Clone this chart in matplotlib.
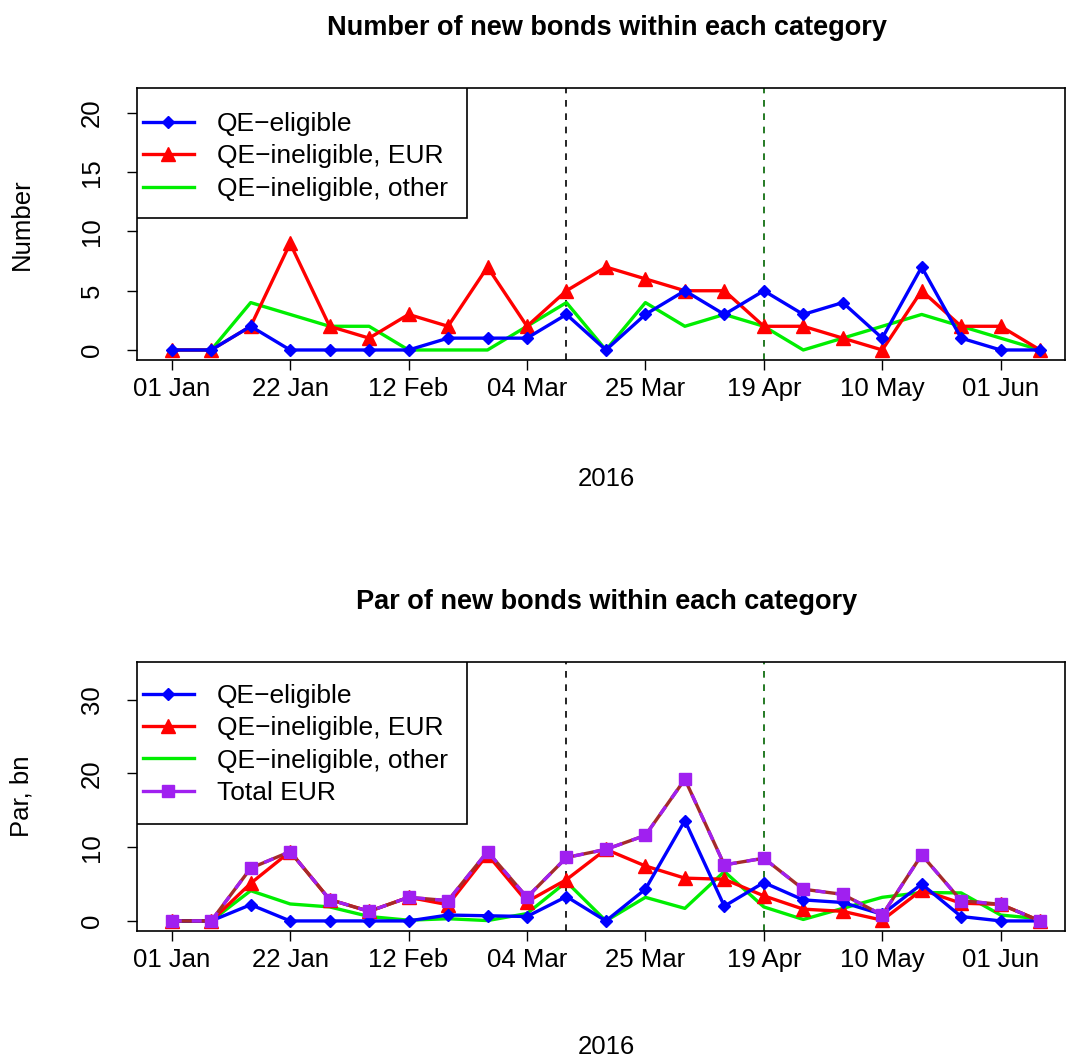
import numpy as np
import matplotlib
matplotlib.use("Agg")
import matplotlib.pyplot as plt
from matplotlib.patches import Rectangle

plt.rcParams['font.family'] = ['Liberation Sans', 'DejaVu Sans']

# weekly issuance, 2016
weeks = np.arange(23)
tick_pos = [0, 3, 6, 9, 12, 15, 18, 21]
tick_labels = ["01 Jan", "22 Jan", "12 Feb", "04 Mar", "25 Mar", "19 Apr", "10 May", "01 Jun"]

# number of new bonds
n_eligible = [0, 0, 2, 0, 0, 0, 0, 1, 1, 1, 3, 0, 3, 5, 3, 5, 3, 4, 1, 7, 1, 0, 0]
n_inelig_eur = [0, 0, 2, 9, 2, 1, 3, 2, 7, 2, 5, 7, 6, 5, 5, 2, 2, 1, 0, 5, 2, 2, 0]
n_inelig_other = [0, 0, 4, 3, 2, 2, 0, 0, 0, 2, 4, 0, 4, 2, 3, 2, 0, 1, 2, 3, 2, 1, 0]

# par amounts, bn
p_eligible = [0, 0, 2.2, 0, 0, 0, 0, 0.8, 0.7, 0.6, 3.3, 0, 4.3, 13.6, 2.0, 5.2, 2.85, 2.5, 0.9, 5.0, 0.6, 0, 0]
p_inelig_eur = [0, 0, 5.1, 9.4, 2.9, 1.3, 3.2, 2.2, 9.0, 2.6, 5.6, 9.7, 7.45, 5.8, 5.65, 3.4, 1.6, 1.3, 0.1, 4.2, 2.4, 2.25, 0]
p_inelig_other = [0, 0, 4.1, 2.3, 1.9, 0.6, 0.1, 0.3, 0.05, 1.0, 5.3, 0, 3.2, 1.7, 6.7, 1.9, 0.2, 1.7, 3.2, 3.85, 3.8, 0.8, 0.3]
p_total_eur = [0, 0, 7.15, 9.4, 2.9, 1.3, 3.2, 2.75, 9.4, 3.2, 8.6, 9.7, 11.6, 19.2, 7.6, 8.5, 4.3, 3.6, 0.8, 8.95, 2.75, 2.25, 0]

event_weeks = [10, 15]
event_colors = ["black", "darkgreen"]

FS = 18.5

fig = plt.figure(figsize=(10.67, 10.59), dpi=100)
ax1 = fig.add_axes([0.1284, 0.660, 0.8697, 0.2568])
ax2 = fig.add_axes([0.1284, 0.1209, 0.8697, 0.2540])


def style_axes(ax, ylim, yticks, title, ylabel, xlab_y):
    ax.set_xlim(-0.88, 22.63)
    ax.set_ylim(*ylim)
    ax.set_xticks(tick_pos)
    ax.set_xticklabels(tick_labels)
    ax.set_yticks(yticks)
    ax.set_yticklabels([str(v) for v in yticks], rotation=90, va='center')
    ax.tick_params(axis='x', labelsize=FS, length=7, width=1, direction='out', pad=5)
    ax.tick_params(axis='y', labelsize=FS, length=7, width=1, direction='out', pad=17)
    for s in ax.spines.values():
        s.set_linewidth(1.2)
    t = ax.set_title(title, fontsize=19.5, fontweight='bold', pad=38)
    t.set_x(0.506)
    ax.set_xlabel("2016", fontsize=FS)
    ax.xaxis.set_label_coords(0.506, xlab_y)
    ax.set_ylabel(ylabel, fontsize=FS, labelpad=33)
    for w, c in zip(event_weeks, event_colors):
        ax.axvline(w, color=c, ls=(0, (4, 4)), lw=1.2, zorder=1)


def add_legend(ax, handles, labels, box_bottom, top_anchor):
    # boxed legend in the top-left corner, frame drawn separately for R-like padding
    ax.add_patch(Rectangle((0, box_bottom), 0.3556, 1 - box_bottom, transform=ax.transAxes,
                           facecolor='white', edgecolor='black', lw=1.2, zorder=10))
    leg = ax.legend(handles, labels, loc='upper left', bbox_to_anchor=(0.0061, top_anchor),
                    fontsize=19, frameon=False, borderaxespad=0, borderpad=0,
                    handlelength=1.94, handletextpad=0.88, labelspacing=0.32)
    leg.set_zorder(11)


# top panel
ax1.plot(weeks, n_inelig_other, color='#00ee00', lw=2.4, label='QE\u2212ineligible, other', zorder=2)
ax1.plot(weeks, n_inelig_eur, color='red', lw=2.4, marker='^', ms=10, label='QE\u2212ineligible, EUR', zorder=3)
ax1.plot(weeks, n_eligible, color='blue', lw=2.4, marker='D', ms=6, label='QE\u2212eligible', zorder=4)
style_axes(ax1, (-0.85, 22.1), [0, 5, 10, 15, 20], "Number of new bonds within each category",
           "Number", -0.393)
h, l = ax1.get_legend_handles_labels()
add_legend(ax1, [h[2], h[1], h[0]], [l[2], l[1], l[0]], 0.522, 0.912)

# bottom panel
ax2.plot(weeks, p_inelig_other, color='#00ee00', lw=2.4, label='QE\u2212ineligible, other', zorder=2)
ax2.plot(weeks, p_inelig_eur, color='red', lw=2.4, marker='^', ms=10, label='QE\u2212ineligible, EUR', zorder=3)
ax2.plot(weeks, p_eligible, color='blue', lw=2.4, marker='D', ms=6, label='QE\u2212eligible', zorder=4)
ax2.plot(weeks, p_total_eur, color='brown', lw=2.4, zorder=5)
ax2.plot(weeks, p_total_eur, color='#a020f0', lw=2.4, ls=(0, (3, 3)), marker='s', ms=9,
         label='Total EUR', zorder=6)
style_axes(ax2, (-1.36, 35.1), [0, 10, 20, 30], "Par of new bonds within each category",
           "Par, bn", -0.385)
h, l = ax2.get_legend_handles_labels()
tot = plt.Line2D([], [], color='#a020f0', lw=2.4, marker='s', ms=9)
add_legend(ax2, [h[2], h[1], h[0], tot], [l[2], l[1], l[0], l[3]], 0.398, 0.919)

fig.savefig("out.png", dpi=100)
